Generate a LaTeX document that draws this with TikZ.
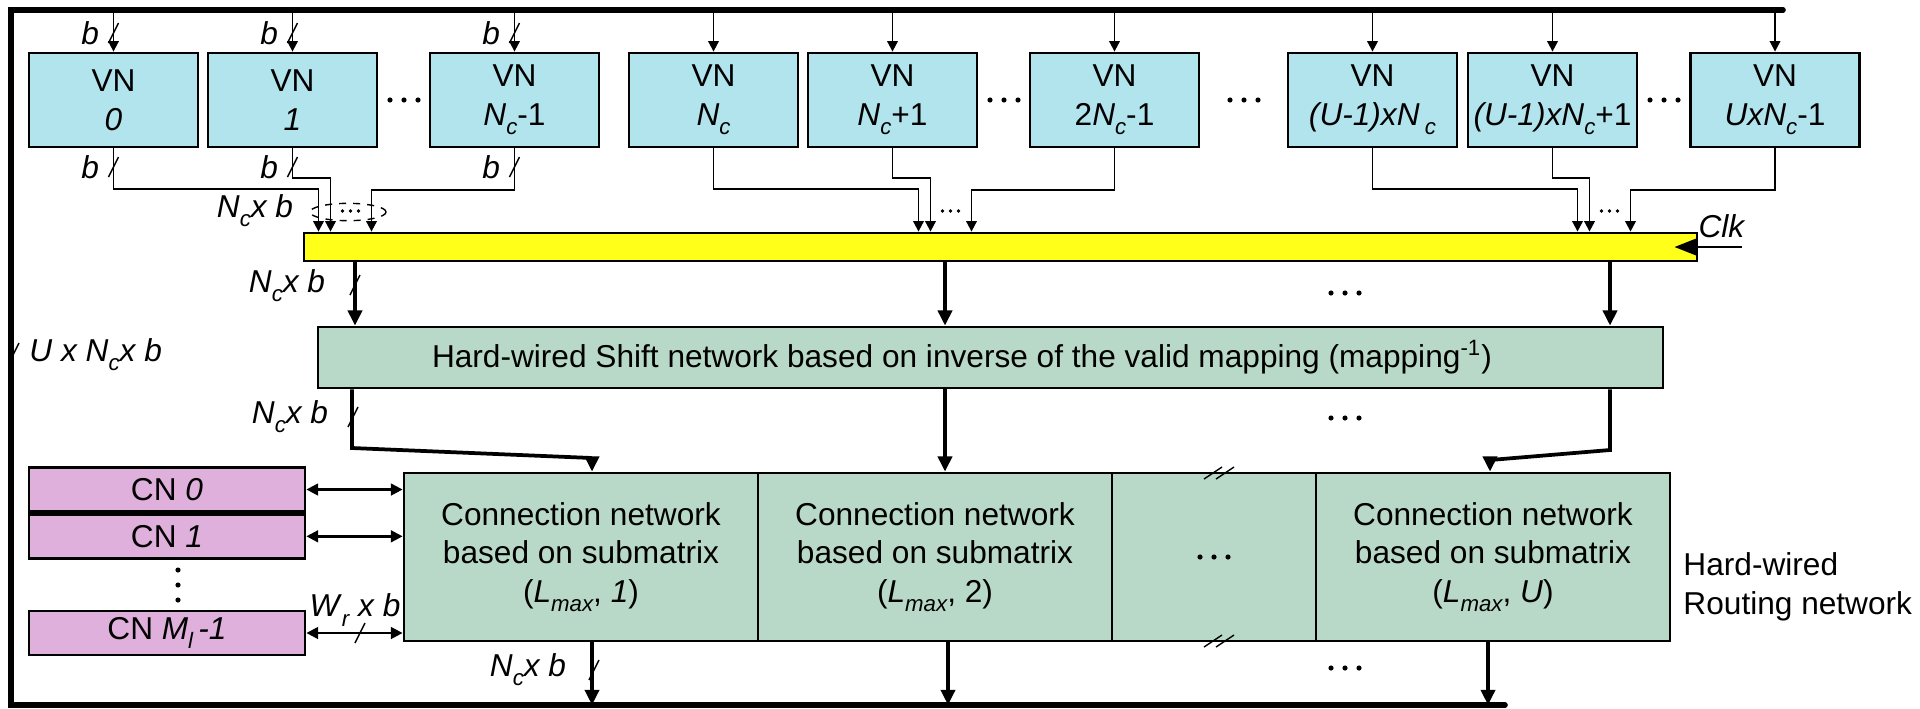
\documentclass[tikz,border=0pt]{standalone}
\usepackage{fontspec}
\setmainfont{Liberation Sans}
\usetikzlibrary{arrows.meta,positioning}

\definecolor{vnblue}{RGB}{178,228,238}
\definecolor{netgreen}{RGB}{184,217,199}
\definecolor{cnpink}{RGB}{224,176,220}
\definecolor{regyellow}{RGB}{255,255,26}

\newcommand{\pu}{0.015cm}
\newcommand{\sbs}[1]{\raisebox{-0.55ex}{\fontsize{9.5}{10}\selectfont\itshape #1}}
\newcommand{\ncxb}{\textit{N}\sbs{c}\textit{x b}}

\tikzset{
  lbl/.style={font=\fontsize{13.5}{16.5}\selectfont, inner sep=0pt},
  box/.style={lbl, draw, line width=1.2pt, align=center},
  vn/.style={box, fill=vnblue, minimum width=169*\pu, minimum height=94*\pu},
  cn/.style={box, fill=cnpink, minimum width=276*\pu, minimum height=44*\pu},
  net/.style={box, fill=netgreen},
  conn/.style={net, minimum width=354*\pu, minimum height=168*\pu},
  reg/.style={box, fill=regyellow, minimum width=1393*\pu, minimum height=28*\pu},
  sig/.style={line width=0.8pt, -{Triangle[length=4.5pt,width=4.5pt]}},
  thk/.style={line width=1.6pt, -{Triangle[length=6.5pt,width=6pt]}},
  dsig/.style={line width=1pt, {Triangle[length=5pt,width=5pt]}-{Triangle[length=5pt,width=5pt]}},
  clkarr/.style={line width=1.2pt, -{Triangle[length=10pt,width=7.5pt]}},
  bus/.style={line width=2.4pt, line cap=round},
}
\tikzset{
  pics/bslash/.style={code={\draw[line width=0.6pt] (-5,10) -- (5,-10);}},
  pics/dslash/.style={code={\draw[line width=0.6pt] (-15,6) -- (3,-6) (-3,6) -- (15,-6);}},
  pics/hdots/.style={code={\fill (-#1,0) circle (1.1pt) (0,0) circle (1.1pt) (#1,0) circle (1.1pt);}},
  pics/ldots/.style={code={\fill (-8,0) circle (0.8pt) (0,0) circle (0.8pt) (8,0) circle (0.8pt);}},
}

\begin{document}
\begin{tikzpicture}[x=\pu, y=-\pu]
\useasboundingbox (0,0) rectangle (1920,708);

% frame / bus
\coordinate (tr) at (1783,10);
\coordinate (tl) at (11,10);
\coordinate (bl) at (11,705);
\coordinate (br) at (1505,705);
\draw[bus] (tr) -- (tl) -- (bl) -- (br);
\pic at (14,353) {bslash};
\node[lbl, anchor=west] (ulab) at (29,355) {\textit{U x N}\sbs{c}\textit{x b}};

% variable nodes
\node[vn] (vn0) at (113.5,100) {VN\\\textit{0}};
\node[vn] (vn1) at (292.5,100) {VN\\\textit{1}};
\node[vn] (vn2) at (514.5,100) {VN\\\textit{N}\sbs{c}-1};
\node[vn] (vn3) at (713.5,100) {VN\\\textit{N}\sbs{c}};
\node[vn] (vn4) at (892.5,100) {VN\\\textit{N}\sbs{c}+1};
\node[vn] (vn5) at (1114.5,100) {VN\\2\textit{N}\sbs{c}-1};
\node[vn] (vn6) at (1372.5,100) {VN\\\textit{(U-1)xN\,}\sbs{c}};
\node[vn] (vn7) at (1552.5,100) {VN\\\textit{(U-1)xN}\sbs{c}+1};
\node[vn] (vn8) at (1775,100) {VN\\\textit{UxN}\sbs{c}-1};
\pic at (404,100) {hdots=14};
\pic at (1004,100) {hdots=14};
\pic at (1244,100) {hdots=14};
\pic at (1664,100) {hdots=14};

% inputs from the bus
\foreach \v in {vn0,vn1,vn2,vn3,vn4,vn5,vn6,vn7,vn8}
  \draw[sig] (\v.north |- tl) -- (\v.north);
\foreach \v in {vn0,vn1,vn2} {
  \pic at (\v.north |- 0,33) {bslash};
  \node[lbl, anchor=east, xshift=-6pt] (bi-\v) at (\v.north |- 0,33) {\textit{b}};
  \pic at (\v.south |- 0,167) {bslash};
  \node[lbl, anchor=east, xshift=-6pt] (bo-\v) at (\v.south |- 0,167) {\textit{b}};
}

% register
\node[reg] (bar) at (1000.5,247) {};
\coordinate (clk) at (1742,247);
\draw[clkarr, shorten >=-0.36cm] (clk) -- (bar.east);
\node[lbl] (clklab) at (1722,226) {\textit{Clk}};

% VN outputs into the register
\foreach \va/\vb/\vc/\o in {vn0/vn1/vn2/113.5, vn3/vn4/vn5/713.5, vn6/vn7/vn8/1372.5} {
  \draw[sig] (\va.south) |- (\o+205,189) -- (bar.north -| \o+205,0);
  \draw[sig] (\vb.south) |- (\o+217,178) -- (bar.north -| \o+217,0);
  \draw[sig] (\vc.south) |- (\o+258,190) -- (bar.north -| \o+258,0);
  \pic at (\o+237,211) {ldots};
}
\draw[dashed, line width=0.6pt] (348,212) ellipse [x radius=0.57cm, y radius=0.13cm];
\node[lbl] (lanes) at (255,211) {\ncxb};

% shift network
\node[net, minimum width=1345*\pu, minimum height=61*\pu] (shift) at (990.5,357.5) {};
\node[lbl] (shifttxt) at (962,357) {Hard-wired Shift network based on inverse of the valid mapping (mapping\textsuperscript{-1})};
\foreach \x in {355,945,1610}
  \draw[thk] (bar.south -| \x,0) -- (shift.north -| \x,0);
\pic at (355,285) {bslash};
\node[lbl] (w1) at (287,286) {\ncxb};
\pic at (1345,293) {hdots=14};

% routing network
\node[conn] (c1) at (581,557) {Connection network\\based on submatrix\\(\textit{L}\sbs{max}, \textit{1})};
\node[conn] (c2) at (935,557) {Connection network\\based on submatrix\\(\textit{L}\sbs{max}, 2)};
\node[conn, minimum width=204*\pu] (c3) at (1214,557) {};
\node[conn] (c4) at (1493,557) {Connection network\\based on submatrix\\(\textit{L}\sbs{max}, \textit{U})};
\pic at (1214,557) {hdots=14};
\pic at (1219,473) {dslash};
\pic at (1219,641) {dslash};
\node[lbl, align=left, anchor=west] (rtlab) at (1683,587) {Hard-wired\\Routing network};

\draw[thk] (shift.south -| 352,0) -- (352,448) -- (592,458) -- (c1.north -| 592,0);
\draw[thk] (shift.south -| 945,0) -- (c2.north -| 945,0);
\draw[thk] (shift.south -| 1610,0) -- (1610,450) -- (1490,460) -- (c4.north -| 1490,0);
\pic at (353,417) {bslash};
\node[lbl] (w2) at (290,417) {\ncxb};
\pic at (1345,418) {hdots=14};

\foreach \x/\c in {592/c1,948/c2,1488/c4}
  \draw[thk] (\c.south -| \x,0) -- (\x,0 |- bl);
\pic at (594,670) {bslash};
\node[lbl] (w3) at (528,670) {\ncxb};
\pic at (1345,668) {hdots=14};

% check nodes
\node[cn] (cn0) at (167,489.5) {CN \textit{0}};
\node[cn, below=0pt of cn0] (cn1) {CN \textit{1}};
\node[cn] (cnm) at (167,633) {CN \textit{M}\sbs{l}\textit{\,-1}};
\pic[rotate=90] at (178,585) {hdots=15};
\foreach \c in {cn0,cn1,cnm}
  \draw[dsig] (\c.east) -- (\c.east -| c1.west);
\pic at (360,633) {bslash};
\node[lbl] (wr) at (355,610) {\textit{W}\sbs{r}\textit{ x b}};

\end{tikzpicture}
\end{document}
